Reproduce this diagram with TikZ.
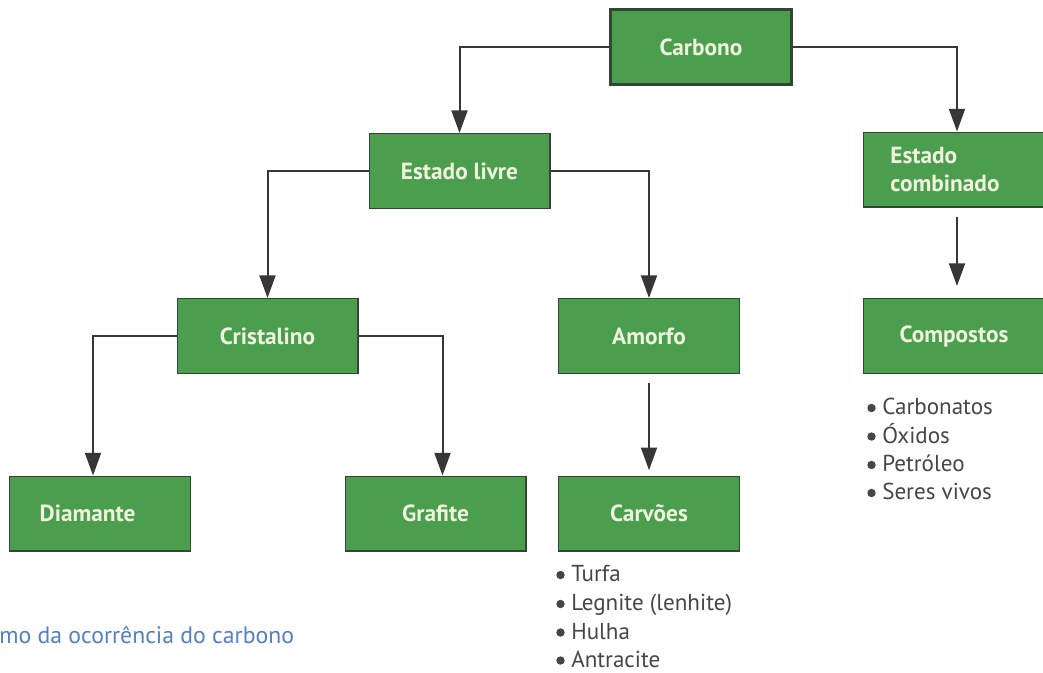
\documentclass[tikz,border=0pt]{standalone}
\usepackage{fontspec}
\setmainfont{PT Sans}
\usetikzlibrary{arrows.meta,calc}
\definecolor{boxgreen}{RGB}{74,158,78}
\definecolor{boxedge}{RGB}{50,70,52}
\definecolor{boxtext}{RGB}{240,242,222}
\definecolor{linegray}{RGB}{55,55,55}
\definecolor{listgray}{RGB}{70,70,70}
\definecolor{capblue}{RGB}{82,128,200}
\begin{document}
\begin{tikzpicture}[x=0.75pt,y=-0.75pt,
  box/.style={draw=boxedge, line width=1pt, fill=boxgreen, minimum width=135.5pt,
    minimum height=56pt, inner sep=0pt, text=boxtext, font=\bfseries\fontsize{17.5}{21.5}\selectfont},
  conn/.style={draw=linegray, line width=1.5pt, -{Triangle[length=17pt,width=12pt]}},
  item/.style={anchor=base west, inner sep=0pt, text depth=0pt, text=listgray, font=\fontsize{17.3}{20}\selectfont},
  dot/.style={fill=listgray},
  caption/.style={anchor=base west, inner sep=0pt, text=capblue, font=\fontsize{17.8}{20}\selectfont}]
\useasboundingbox (0,0) rectangle (1043,672);
\clip (0,0) rectangle (1043,672);

\node[box, line width=2.2pt] (carb) at (701,47) {Carbono};
\node[box] (el) at (459.5,171) {Estado livre};
\node[box, align=left, text width=95.5pt, inner xsep=20pt] (ec) at (954,169.5) {Estado\\combinado};
\node[box] (cr) at (267.5,336) {Cristalino};
\node[box] (am) at (649,336) {Amorfo};
\node[box] (co) at (954,336) {Compostos};
\node[box, align=left, text width=90.5pt, inner xsep=22.5pt] (di) at (100,513.5) {Diamante};
\node[box] (gr) at (435.5,513.5) {Grafite};
\node[box] (cv) at (649,513.5) {Carvões};

\draw[conn] (carb.west) -| (el.north);
\draw[conn] (carb.east) -| ($(ec.north)+(3,0)$);
\draw[conn] (el.west) -| (cr.north);
\draw[conn] (el.east) -| (am.north);
\draw[conn] (cr.west) -| ($(di.north)+(-7,0)$);
\draw[conn] (cr.east) -| ($(gr.north)+(7,0)$);
\draw[conn, shorten <=7pt, shorten >=4pt] (am.south) -- (cv.north);
\draw[conn, shorten <=7pt, shorten >=9pt] ($(ec.south)+(3,0)$) -- ($(co.north)+(3,0)$);

\node[item] (cv1) at (571,581.5) {Turfa};
\node[item] (cv2) at (571,610.5) {Legnite (lenhite)};
\node[item] (cv3) at (571,639) {Hulha};
\node[item] (cv4) at (571,667) {Antracite};

\node[item] (co1) at (882,414.5) {Carbonatos};
\node[item] (co2) at (882,443) {Óxidos};
\node[item] (co3) at (882,471.5) {Petróleo};
\node[item] (co4) at (882,499.5) {Seres vivos};

\foreach \n in {cv1,cv2,cv3,cv4,co1,co2,co3,co4}
  \fill[dot] ($(\n.base west)+(-10.5,-6.5)$) circle (4.2);

\node[caption] (cap) at (-1,643) {mo da ocorrência do carbono};
\end{tikzpicture}
\end{document}
